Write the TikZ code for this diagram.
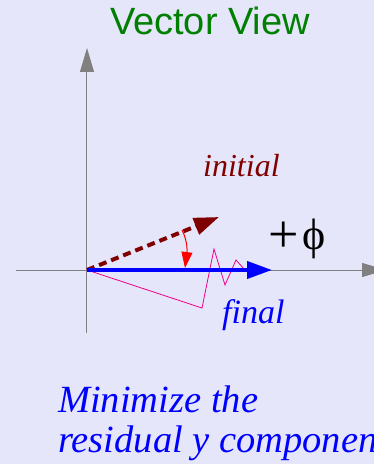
\documentclass[tikz,border=0pt]{standalone}
\usepackage{fontspec}
\setmainfont{Liberation Serif}
\newfontfamily\headfont{Liberation Sans}
\usetikzlibrary{arrows.meta}
\definecolor{bgcol}{RGB}{230,230,250}
\definecolor{axisgray}{RGB}{128,128,128}
\definecolor{initred}{RGB}{128,0,0}
\definecolor{headgreen}{RGB}{0,128,0}

\begin{document}
\begin{tikzpicture}[x=1pt,y=1pt,
axis/.style={draw=axisgray,line width=1pt,-{Triangle[length=24pt,width=14pt]}},
initvec/.style={draw=initred,line width=4pt,dash pattern=on 8pt off 5pt,-{Triangle[length=25pt,width=17pt]}},
finalvec/.style={draw=blue,line width=4pt,-{Triangle[length=25pt,width=17pt]}},
rot/.style={draw=red,line width=1pt,-{Triangle[length=16pt,width=11pt]}},
resid/.style={draw=magenta,line width=0.8pt},
lbl/.style={inner sep=0pt,anchor=base west}]
\fill[bgcol] (-87,-194) rectangle (287,270);
\useasboundingbox (-87,-194) rectangle (287,270);
\clip (-87,-194) rectangle (287,270);
\node[anchor=base,inner sep=0pt,font=\headfont\fontsize{38}{44}\selectfont,text=headgreen] (title) at (123,235) {Vector View};
\coordinate (O) at (0,0);
\coordinate (ybot) at (0,-63); \coordinate (ytop) at (0,222);
\coordinate (xleft) at (-71,0); \coordinate (xright) at (299,0);
\coordinate (vinit) at (132,53); \coordinate (vfinal) at (185,0);
\coordinate (rotstart) at (95,40); \coordinate (rotend) at (98,2);
\draw[axis] (ybot)--(ytop); \draw[axis] (xleft)--(xright);
\draw[resid] (O)--(115,-38)--(127,21)--(138,-15)--(149,10)--(157,1);
\draw[initvec] (O)--(vinit);
\draw[finalvec] (O)--(vfinal);
\draw[rot] (rotstart) .. controls (101,28) and (100,18) .. (rotend);
\node[lbl,text=initred,font=\itshape\fontsize{32}{36}\selectfont] (initlbl) at (116,93) {initial};
\node[lbl,text=blue,font=\itshape\fontsize{34}{38}\selectfont] (finallbl) at (135,-53) {final};
\node[anchor=base west,inner sep=0pt] (phi) at (181,21) {\raisebox{-3pt}{\fontsize{54}{54}\selectfont +}\hspace{4pt}{\fontsize{44}{44}\selectfont ϕ}};
\node[anchor=base west,inner sep=0pt,align=left,text=blue,font=\itshape\fontsize{38.5}{40}\selectfont] (note) at (-29,-182) {Minimize the\\residual y component};
\end{tikzpicture}
\end{document}
